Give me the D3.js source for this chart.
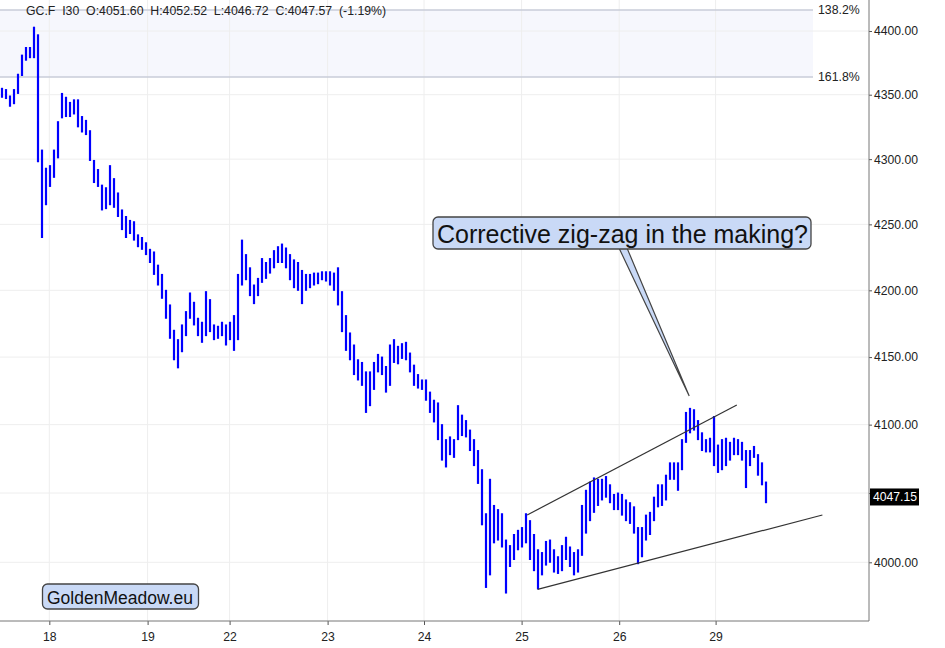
<!DOCTYPE html>
<html>
<head>
<meta charset="utf-8">
<script src="https://cdn.jsdelivr.net/npm/d3@7"></script>
<style>
    body { margin: 0; background: #fff; }
    svg { display: block; font-family: "Liberation Sans", Arial, Helvetica, sans-serif; }
</style>
</head>
<body>
<div id="gold-chart"><svg></svg></div>
<script>
// Hourly high / low of GC.F (bar 0 = evening of the 17th)
const barHigh = [
    4355, 4354, 4349, 4354, 4366, 4381, 4387, 4387, 4403, 4397,
    4307, 4293, 4295, 4307, 4329, 4351, 4348, 4344, 4346, 4346,
    4333, 4330, 4322, 4299, 4292, 4280, 4278, 4295, 4285, 4274,
    4261, 4256, 4253, 4252, 4242, 4240, 4236, 4231, 4229, 4219,
    4212, 4200, 4189, 4170, 4163, 4174, 4184, 4198, 4191, 4179,
    4176, 4199, 4193, 4174, 4173, 4176, 4174, 4176, 4181, 4212,
    4238, 4227, 4217, 4204, 4209, 4224, 4221, 4224, 4230, 4233,
    4235, 4232, 4227, 4223, 4221, 4215, 4212, 4212, 4213, 4213,
    4214, 4214, 4214, 4213, 4217, 4199, 4181, 4168, 4159, 4148,
    4146, 4139, 4139, 4146, 4152, 4150, 4143, 4159, 4163, 4158,
    4160, 4161, 4153, 4144, 4137, 4133, 4133, 4124, 4118, 4116,
    4100, 4089, 4091, 4089, 4114, 4107, 4103, 4096, 4089, 4081,
    4067, 4035, 4060, 4041, 4038, 4035, 4016, 4012, 4020, 4023,
    4025, 4035, 4030, 4020, 4009, 4007, 4015, 4016, 4009, 4004,
    4012, 4018, 4011, 4007, 4009, 4041, 4052, 4058, 4061, 4060,
    4060, 4062, 4056, 4049, 4050, 4049, 4045, 4043, 4040, 4025,
    4025, 4034, 4036, 4047, 4056, 4056, 4063, 4072, 4072, 4072,
    4089, 4109, 4112, 4111, 4103, 4094, 4089, 4090, 4106, 4085,
    4089, 4090, 4087, 4090, 4089, 4087, 4081, 4081, 4084, 4078,
    4072, 4058
];
const barLow = [
    4348, 4347, 4341, 4343, 4351, 4365, 4377, 4379, 4379, 4298,
    4240, 4265, 4279, 4286, 4301, 4332, 4333, 4333, 4335, 4325,
    4321, 4319, 4299, 4282, 4279, 4261, 4262, 4265, 4263, 4256,
    4246, 4240, 4243, 4238, 4233, 4231, 4227, 4221, 4212, 4204,
    4194, 4179, 4164, 4148, 4142, 4154, 4166, 4179, 4174, 4166,
    4161, 4166, 4169, 4163, 4164, 4166, 4159, 4163, 4155, 4163,
    4204, 4208, 4196, 4190, 4196, 4206, 4209, 4213, 4217, 4221,
    4221, 4217, 4208, 4202, 4200, 4190, 4200, 4202, 4204, 4205,
    4208, 4207, 4204, 4200, 4189, 4169, 4155, 4148, 4137, 4133,
    4129, 4109, 4114, 4126, 4139, 4137, 4124, 4129, 4146, 4145,
    4149, 4148, 4139, 4129, 4127, 4126, 4118, 4109, 4102, 4089,
    4074, 4069, 4078, 4076, 4089, 4092, 4091, 4081, 4070, 4057,
    4027, 3982, 3991, 4014, 4016, 4011, 3978, 3997, 4002, 4009,
    4011, 4014, 4002, 3994, 3981, 3991, 3998, 4000, 3993, 3992,
    3994, 4002, 3997, 3991, 3993, 4005, 4021, 4030, 4036, 4041,
    4045, 4047, 4043, 4038, 4038, 4034, 4030, 4028, 4021, 3999,
    4004, 4016, 4020, 4030, 4040, 4041, 4045, 4060, 4060, 4052,
    4067, 4087, 4094, 4096, 4089, 4081, 4080, 4080, 4070, 4065,
    4067, 4070, 4074, 4078, 4078, 4074, 4054, 4070, 4076, 4063,
    4056, 4043
];

// Day labels on the time axis and where they fall, in bar units
const dayLabels = ["18", "19", "22", "23", "24", "25", "26", "29"];
const dayTickBars = [12.33, 36.9, 57.4, 81.9, 106, 130.4, 154.8, 178.9];

const priceTicks = [4000, 4050, 4100, 4150, 4200, 4250, 4300, 4350, 4400];

// Fibonacci extension band
const fibLabels = ["138.2%", "161.8%"];
const fibPrices = [4416.6, 4363.8];

const headerItems = ["GC.F", "I30", "O:4051.60", "H:4052.52", "L:4046.72", "C:4047.57", "(-1.19%)"];
const lastPrice = 4047.15;

// Trendlines as [bar, price] points
const upperLine = [[131.8, 4034.1], [184.2, 4114.5]];
const lowerLine = [[134.4, 3980.6], [205.6, 4034.1]];

const calloutText = "Corrective zig-zag in the making?";
const calloutTip = [172.3, 4121.2];
const brandText = "GoldenMeadow.eu";

(function () {
    // Set dimensions
    const width = 945;
    const height = 648;
    const plotRight = 869;
    const plotBottom = 621;
    const font = "\"Liberation Sans\", Arial, Helvetica, sans-serif";

    const svg = d3.select("#gold-chart svg")
        .attr("width", width)
        .attr("height", height);

    // Scales: bars are 4px wide, price axis is logarithmic
    const x = d3.scaleLinear()
        .domain([0, plotRight / 4])
        .range([0, plotRight]);

    const y = d3.scaleLog()
        .domain([4000, 4400])
        .range([562.3, 31]);

    // Fibonacci band
    const fibTop = y(fibPrices[0]);
    const fibBottom = y(fibPrices[1]);
    svg.append("rect")
        .attr("x", 0)
        .attr("y", fibTop)
        .attr("width", 813)
        .attr("height", fibBottom - fibTop)
        .attr("fill", "#f6f7fd");

    // Grid lines
    svg.append("g")
        .selectAll("line")
        .data(priceTicks)
        .join("line")
        .attr("x1", 0)
        .attr("x2", plotRight)
        .attr("y1", d => y(d))
        .attr("y2", d => y(d))
        .attr("stroke", "#eeeeee")
        .attr("stroke-width", 1);

    svg.append("g")
        .selectAll("line")
        .data(dayTickBars)
        .join("line")
        .attr("x1", d => x(d))
        .attr("x2", d => x(d))
        .attr("y1", 0)
        .attr("y2", plotBottom)
        .attr("stroke", "#eeeeee")
        .attr("stroke-width", 1);

    // Fibonacci lines and labels
    fibPrices.forEach((p, i) => {
        svg.append("line")
            .attr("x1", 0)
            .attr("x2", 813)
            .attr("y1", y(p))
            .attr("y2", y(p))
            .attr("stroke", "#c9ccd8")
            .attr("stroke-width", 1.5);

        svg.append("text")
            .attr("x", 818)
            .attr("y", y(p))
            .attr("dy", "0.35em")
            .attr("font-size", "12.3px")
            .attr("fill", "#222")
            .text(fibLabels[i]);
    });

    // Header line
    const header = svg.append("text")
        .attr("y", 14.5)
        .attr("font-size", "12.3px")
        .attr("fill", "#222");
    let hx = 26;
    headerItems.forEach(item => {
        const t = header.append("tspan")
            .attr("x", hx)
            .text(item);
        hx += t.node().getComputedTextLength() + 6.8;
    });

    // Price bars
    svg.append("g")
        .selectAll("line")
        .data(barHigh)
        .join("line")
        .attr("x1", (d, i) => x(i + 0.5))
        .attr("x2", (d, i) => x(i + 0.5))
        .attr("y1", d => y(d) - 0.5)
        .attr("y2", (d, i) => y(barLow[i]) + 0.5)
        .attr("stroke", "#0000ff")
        .attr("stroke-width", 2.2);

    // Trendlines
    [upperLine, lowerLine].forEach(pts => {
        svg.append("line")
            .attr("x1", x(pts[0][0]))
            .attr("y1", y(pts[0][1]))
            .attr("x2", x(pts[1][0]))
            .attr("y2", y(pts[1][1]))
            .attr("stroke", "#333")
            .attr("stroke-width", 1.2);
    });

    // Callout bubble
    const tipX = x(calloutTip[0]);
    const tipY = y(calloutTip[1]);
    svg.append("path")
        .attr("d", `M619,248 L${tipX},${tipY} L627,248 Z`)
        .attr("fill", "#c9d9f6")
        .attr("stroke", "#444")
        .attr("stroke-width", 1.2);

    svg.append("rect")
        .attr("x", 433)
        .attr("y", 217)
        .attr("width", 378)
        .attr("height", 32)
        .attr("rx", 5)
        .attr("fill", "#c9d9f6")
        .attr("stroke", "#444")
        .attr("stroke-width", 1.3);

    svg.append("text")
        .attr("x", 437)
        .attr("y", 243)
        .attr("font-size", "25px")
        .attr("fill", "#111")
        .text(calloutText);

    // Brand label
    svg.append("rect")
        .attr("x", 42.5)
        .attr("y", 584)
        .attr("width", 156)
        .attr("height", 25)
        .attr("rx", 5)
        .attr("fill", "#c9d9f6")
        .attr("stroke", "#444")
        .attr("stroke-width", 1.3);

    svg.append("text")
        .attr("x", 47)
        .attr("y", 603.5)
        .attr("font-size", "17.5px")
        .attr("fill", "#111")
        .text(brandText);

    // Axes (the 4050 label sits under the last-price marker, so it is left blank)
    const yAxis = svg.append("g")
        .attr("transform", `translate(${plotRight},0)`)
        .call(d3.axisRight(y)
            .tickValues(priceTicks)
            .tickFormat(d => d === 4050 ? "" : d3.format(".2f")(d))
            .tickSize(3)
            .tickPadding(2));
    yAxis.select(".domain").remove();
    yAxis.selectAll("line").attr("stroke", "#555");
    yAxis.selectAll("text")
        .attr("font-family", font)
        .attr("font-size", "12.2px")
        .attr("fill", "#222");

    const xAxis = svg.append("g")
        .attr("transform", `translate(0,${plotBottom})`)
        .call(d3.axisBottom(x)
            .tickValues(dayTickBars)
            .tickFormat((d, i) => dayLabels[i])
            .tickSize(4)
            .tickPadding(7));
    xAxis.select(".domain").remove();
    xAxis.selectAll("line").attr("stroke", "#555");
    xAxis.selectAll("text")
        .attr("font-family", font)
        .attr("font-size", "12.2px")
        .attr("fill", "#222");

    svg.append("line")
        .attr("x1", plotRight)
        .attr("x2", plotRight)
        .attr("y1", 0)
        .attr("y2", plotBottom)
        .attr("stroke", "#777")
        .attr("stroke-width", 1);

    svg.append("line")
        .attr("x1", 0)
        .attr("x2", plotRight)
        .attr("y1", plotBottom)
        .attr("y2", plotBottom)
        .attr("stroke", "#777")
        .attr("stroke-width", 1);

    // Last price marker
    const ly = y(lastPrice);
    svg.append("rect")
        .attr("x", 870)
        .attr("y", ly - 8.5)
        .attr("width", 49)
        .attr("height", 17)
        .attr("fill", "#000");

    svg.append("text")
        .attr("x", 873)
        .attr("y", ly)
        .attr("dy", "0.35em")
        .attr("font-size", "12.2px")
        .attr("fill", "#fff")
        .text(lastPrice.toFixed(2));
})();
</script>
</body>
</html>
